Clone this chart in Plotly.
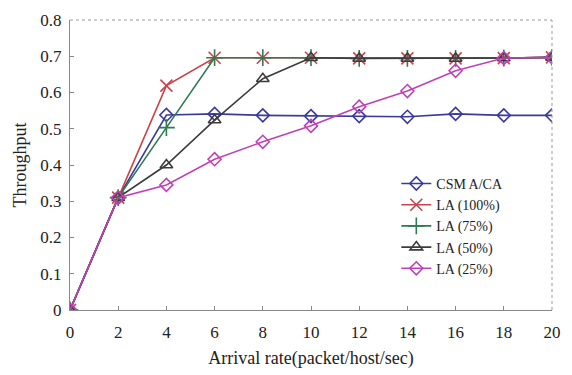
import plotly.graph_objects as go

# Arrival rate (packet/host/sec)
arrival_rate = [0, 2, 4, 6, 8, 10, 12, 14, 16, 18, 20]

# Throughput per scheme
csma_ca = [0.0, 0.31, 0.538, 0.541, 0.537, 0.535, 0.535, 0.533, 0.541, 0.537, 0.537]
la_100 = [0.0, 0.31, 0.619, 0.696, 0.696, 0.696, 0.694, 0.694, 0.694, 0.695, 0.697]
la_75 = [0.0, 0.31, 0.503, 0.696, 0.696, 0.696, 0.694, 0.694, 0.694, 0.695, 0.697]
la_50 = [0.0, 0.31, 0.400, 0.524, 0.638, 0.696, 0.694, 0.694, 0.694, 0.695, 0.697]
la_25 = [0.0, 0.31, 0.345, 0.416, 0.464, 0.508, 0.561, 0.604, 0.660, 0.695, 0.697]

y_ticks = [0, 0.1, 0.2, 0.3, 0.4, 0.5, 0.6, 0.7, 0.8]
y_tick_labels = ["0", "0.1", "0.2", "0.3", "0.4", "0.5", "0.6", "0.7", "0.8"]

series = [
    ("CSM A/CA", csma_ca, "#3a3a9c", "diamond-open", 10),
    ("LA (100%)", la_100, "#c8454a", "x-thin-open", 12),
    ("LA (75%)", la_75, "#2f7a55", "cross-thin-open", 12),
    ("LA (50%)", la_50, "#3c3c3c", "triangle-up-open", 11),
    ("LA (25%)", la_25, "#c040b8", "diamond-open", 10),
]

fig = go.Figure()
for name, values, color, symbol, size in series:
    fig.add_trace(go.Scatter(
        x=arrival_rate, y=values, name=name, mode="lines+markers",
        line=dict(color=color, width=1.6),
        marker=dict(symbol=symbol, size=size, color=color,
                    line=dict(color=color, width=1.6)),
    ))

font_family = "Liberation Serif, Times New Roman, serif"

fig.update_layout(
    width=572, height=375,
    margin=dict(l=70, r=11, t=17, b=65),
    paper_bgcolor="white", plot_bgcolor="white",
    font=dict(family=font_family, size=16, color="#222"),
    showlegend=True,
    legend=dict(
        x=0.677, y=0.49, xanchor="left", yanchor="top",
        bgcolor="rgba(255,255,255,0)", borderwidth=0,
        font=dict(family=font_family, size=14, color="#222"),
        tracegroupgap=0, itemwidth=30,
    ),
    xaxis=dict(
        range=[0, 20], tickvals=arrival_rate, ticks="inside", ticklen=4,
        tickcolor="#888", showline=True, linecolor="#888", linewidth=1.2,
        showgrid=False, zeroline=False, ticklabelstandoff=6,
        tickfont=dict(family=font_family, size=17, color="#222"),
        title=dict(text="Arrival rate(packet/host/sec)", standoff=10,
                   font=dict(family=font_family, size=18, color="#222")),
    ),
    yaxis=dict(
        range=[0, 0.8], tickvals=y_ticks, ticktext=y_tick_labels,
        ticks="inside", ticklen=4, ticklabelstandoff=4,
        tickcolor="#888", showline=True, linecolor="#888", linewidth=1.2,
        showgrid=False, zeroline=False,
        tickfont=dict(family=font_family, size=17, color="#222"),
        title=dict(text="Throughput", standoff=8,
                   font=dict(family=font_family, size=18, color="#222")),
    ),
)

# Dotted frame on the top and right sides of the plot area
fig.add_shape(type="line", xref="paper", yref="paper", x0=0, x1=1, y0=1, y1=1,
              line=dict(color="#999", width=1, dash="dot"))
fig.add_shape(type="line", xref="paper", yref="paper", x0=1, x1=1, y0=0, y1=1,
              line=dict(color="#999", width=1, dash="dot"))

fig.write_html("out.html")
